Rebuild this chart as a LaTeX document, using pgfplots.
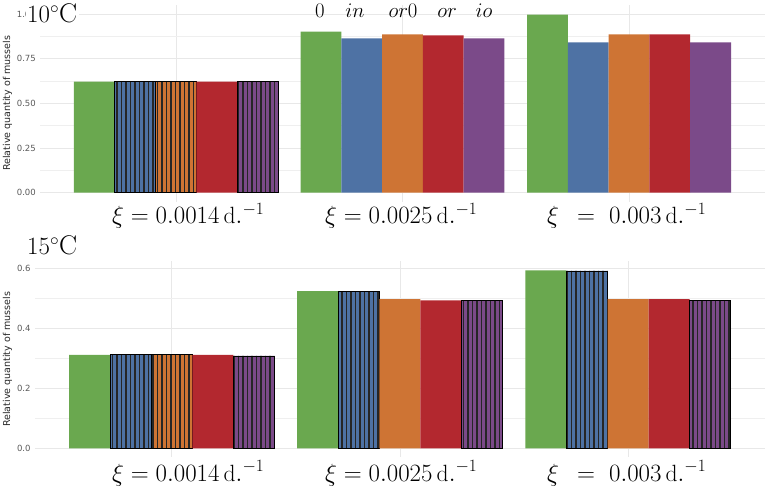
\documentclass[border=0pt]{standalone}
\usepackage{fontspec}
\usepackage{pgfplots}
\pgfplotsset{compat=1.18}
\usetikzlibrary{patterns.meta}
\newfontfamily\ggfont{DejaVu Sans}

\definecolor{cgreen}{RGB}{106,168,79}
\definecolor{cblue}{RGB}{78,114,164}
\definecolor{corange}{RGB}{206,116,52}
\definecolor{cred}{RGB}{179,40,47}
\definecolor{cpurple}{RGB}{123,74,137}
\definecolor{gridc}{RGB}{232,232,232}

\pgfplotsset{
  panel/.style={
    scale only axis,
    xmin=-0.6, xmax=2.6,
    axis line style={draw=none},
    major tick length=0pt, minor tick length=0pt,
    xtick={0,1,2}, xticklabels={},
    xmajorgrids, ymajorgrids, yminorgrids,
    minor y tick num=1,
    major grid style={color=gridc, line width=0.8pt},
    minor grid style={color=gridc!70, line width=0.45pt},
    yticklabel style={font=\ggfont\fontsize{8.5}{10}\selectfont, text=black!65, inner sep=1pt, xshift=-3pt},
    /pgf/number format/assume math mode=true,
    /pgf/number format/fixed,
    /pgf/number format/fixed zerofill,
  },
  bars/.style={ybar, bar width=0.18, bar shift=0pt},
  plain/.style={bars, fill=#1, draw=none},
  hatched/.style={bars, fill=#1, draw=black, line width=0.7pt,
    postaction={pattern={Lines[angle=90,distance=4.5pt,line width=1.4pt]}, pattern color=black!85}},
}

\begin{document}
\begin{tikzpicture}[x=1pt,y=1pt]
\useasboundingbox (0,0) rectangle (771,488);

% ---- 10 degrees ----
\begin{axis}[panel, at={(40pt,286.4pt)}, anchor=south west,
  width=725pt, height=196.5pt,
  ymin=-0.05, ymax=1.05, ytick={0,0.25,0.5,0.75,1},
  /pgf/number format/precision=2]
\addplot[plain=cgreen] coordinates {(-0.36,0.621) (0.64,0.901) (1.64,0.996)};
\addplot[plain=cblue] coordinates {(0.82,0.864) (1.82,0.842)};
\addplot[hatched=cblue] coordinates {(-0.18,0.622)};
\addplot[plain=corange] coordinates {(1,0.886) (2,0.886)};
\addplot[hatched=corange] coordinates {(0,0.622)};
\addplot[plain=cred] coordinates {(0.18,0.621) (1.18,0.881) (2.18,0.886)};
\addplot[plain=cpurple] coordinates {(1.36,0.864) (2.36,0.842)};
\addplot[hatched=cpurple] coordinates {(0.36,0.623)};
\end{axis}

% ---- 15 degrees ----
\begin{axis}[panel, at={(34.8pt,30.8pt)}, anchor=south west,
  width=730.2pt, height=195.8pt,
  ymin=-0.0297, ymax=0.623, ytick={0,0.2,0.4,0.6},
  /pgf/number format/precision=1]
\addplot[plain=cgreen] coordinates {(-0.36,0.311) (0.64,0.524) (1.64,0.593)};
\addplot[hatched=cblue] coordinates {(-0.18,0.313) (0.82,0.522) (1.82,0.591)};
\addplot[plain=corange] coordinates {(1,0.497) (2,0.497)};
\addplot[hatched=corange] coordinates {(0,0.312)};
\addplot[plain=cred] coordinates {(0.18,0.311) (1.18,0.493) (2.18,0.497)};
\addplot[hatched=cpurple] coordinates {(0.36,0.308) (1.36,0.494) (2.36,0.494)};
\end{axis}

% axis titles
\node[rotate=90, font=\ggfont\fontsize{9.5}{10}\selectfont, text=black!85] at (7.5,384.7) {Relative quantity of mussels};
\node[rotate=90, font=\ggfont\fontsize{9.5}{10}\selectfont, text=black!85] at (7.5,128.7) {Relative quantity of mussels};

% panel headings
\node[anchor=base west, fill=white, inner sep=1.5pt, font=\fontsize{27}{27}\selectfont] at (25.5,465.5) {$10^\circ\mathrm{C}$};
\node[anchor=base west, inner sep=0pt, font=\fontsize{27}{27}\selectfont] at (27,233.5) {$15^\circ\mathrm{C}$};

% series names
\begin{scope}[every node/.style={anchor=base, inner sep=0pt, font=\fontsize{21}{21}\selectfont}]
\node at (320,470) {$0$};
\node at (355,470) {$in$};
\node at (403,470) {$or0$};
\node at (447,470) {$or$};
\node at (484,470) {$io$};
\end{scope}

% group labels
\begin{scope}[every node/.style={anchor=base west, inner sep=0pt, font=\fontsize{23.5}{23.5}\selectfont}]
\node at (112,264) {$\xi = 0.0014\,\mathrm{d.}^{-1}$};
\node at (325,264) {$\xi = 0.0025\,\mathrm{d.}^{-1}$};
\node at (547,264) {$\xi\ \,=\ 0.003\,\mathrm{d.}^{-1}$};
\node at (112,7) {$\xi = 0.0014\,\mathrm{d.}^{-1}$};
\node at (325,7) {$\xi = 0.0025\,\mathrm{d.}^{-1}$};
\node at (547,7) {$\xi\ \,=\ 0.003\,\mathrm{d.}^{-1}$};
\end{scope}
\end{tikzpicture}
\end{document}
